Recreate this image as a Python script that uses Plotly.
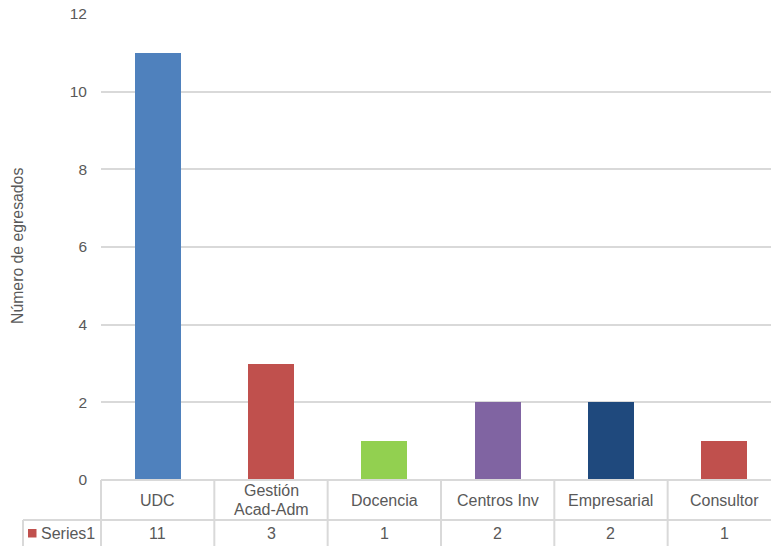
import plotly.graph_objects as go

categories = ["UDC", "Gestión\nAcad-Adm", "Docencia", "Centros Inv", "Empresarial", "Consultor"]
values = [11, 3, 1, 2, 2, 1]
colors = ["#4F81BD", "#C0504D", "#92D050", "#8064A2", "#1F497D", "#C0504D"]
series_name = "Series1"
y_ticks = [0, 2, 4, 6, 8, 10, 12]

n = len(categories)
xs = list(range(n))
grey = "#595959"
line_c = "#D9D9D9"
FONT = "Liberation Sans, Arial, sans-serif"

PLOT_W = 670.0
CELL = 113.33
span = PLOT_W / CELL

fig = go.Figure()
fig.add_trace(go.Bar(x=xs, y=values, marker=dict(color=colors, line=dict(width=0)),
                     width=46 / CELL, showlegend=False, hoverinfo="skip"))

H_PLOT = 466.0
def py(px_below):
    return -px_below / H_PLOT

def pxx(px):
    return (px - 101) / PLOT_W

row1 = py(40)
bottom = py(80)
left_leg = pxx(23)

shapes = []
shapes.append(dict(type="line", xref="paper", yref="paper", x0=0, x1=1.05, y0=0, y1=0,
                   line=dict(color=line_c, width=2)))
shapes.append(dict(type="line", xref="paper", yref="paper", x0=left_leg, x1=1.05, y0=row1, y1=row1,
                   line=dict(color=line_c, width=2)))
for i in range(n + 1):
    xp = i * CELL / PLOT_W
    shapes.append(dict(type="line", xref="paper", yref="paper", x0=xp, x1=xp, y0=0, y1=bottom,
                       line=dict(color=line_c, width=2)))
shapes.append(dict(type="line", xref="paper", yref="paper", x0=left_leg, x1=left_leg, y0=row1, y1=bottom,
                   line=dict(color=line_c, width=2)))
shapes.append(dict(type="rect", xref="paper", yref="paper",
                   x0=pxx(28), x1=pxx(36.5), y0=py(49), y1=py(57.5),
                   fillcolor="#C0504D", line=dict(width=0)))

annotations = []
tfont = dict(size=16, color=grey, family=FONT)
for i, (c, v) in enumerate(zip(categories, values)):
    lines = c.split("\n")
    if len(lines) == 1:
        offs = [20]
    else:
        offs = [11, 29.5]
    for ln, off in zip(lines, offs):
        annotations.append(dict(x=i, y=py(off), xref="x", yref="paper", text=ln, showarrow=False,
                                font=tfont, xanchor="center", yanchor="middle"))
    annotations.append(dict(x=i, y=py(53.5), xref="x", yref="paper", text=str(v), showarrow=False,
                            font=tfont, xanchor="center", yanchor="middle"))
annotations.append(dict(x=pxx(38.5), y=py(53.5), xref="paper", yref="paper", text=series_name,
                        showarrow=False, font=tfont, xanchor="left", yanchor="middle"))
annotations.append(dict(x=pxx(18), y=py(-(480 - 246) ), xref="paper", yref="paper", text="Número de egresados",
                        textangle=-90, showarrow=False, font=dict(size=15.8, color=grey, family=FONT),
                        xanchor="center", yanchor="middle"))

fig.update_layout(
    width=771, height=546,
    margin=dict(l=101, r=0, t=14, b=66),
    paper_bgcolor="white", plot_bgcolor="white",
    font=dict(family=FONT, color=grey, size=16),
    xaxis=dict(range=[-0.5, -0.5 + span], showticklabels=False, showgrid=False, zeroline=False,
               showline=False, ticks="", fixedrange=True),
    yaxis=dict(range=[0, 12], tickvals=y_ticks, showgrid=True, gridcolor=line_c, gridwidth=2,
               zeroline=False, showline=False, ticks="", ticklabelstandoff=13,
               tickfont=dict(size=15.5, color=grey, family=FONT)),
    shapes=shapes, annotations=annotations, bargap=0,
)

fig.write_html("out.html")
